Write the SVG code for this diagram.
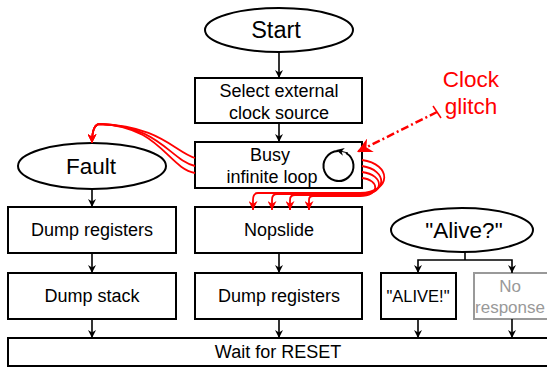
<svg xmlns="http://www.w3.org/2000/svg" width="547" height="367" viewBox="0 0 547 367">
<defs>
<marker id="ab" viewBox="0 0 10 10" refX="10" refY="5" markerWidth="8" markerHeight="8" orient="auto" markerUnits="userSpaceOnUse">
<path d="M0,0 L10,5 L0,10 L3,5 z" fill="#000"/>
</marker>
<marker id="ar" viewBox="0 0 10 10" refX="10" refY="5" markerWidth="9" markerHeight="9" orient="auto" markerUnits="userSpaceOnUse">
<path d="M0,0 L10,5 L0,10 L3,5 z" fill="#f00"/>
</marker>
<marker id="arb" viewBox="0 0 10 10" refX="10" refY="5" markerWidth="15" markerHeight="15" orient="auto" markerUnits="userSpaceOnUse">
<path d="M0,0 L10,5 L0,10 L3,5 z" fill="#f00"/>
</marker>
<marker id="ac" viewBox="0 0 10 10" refX="5" refY="5" markerWidth="8" markerHeight="8" orient="auto" markerUnits="userSpaceOnUse">
<path d="M0,0 L10,5 L0,10 L3,5 z" fill="#000"/>
</marker>
</defs>
<style>
.n{fill:#fff;stroke:#000;stroke-width:2}
.g{fill:#fff;stroke:#999;stroke-width:2}
.t{font-family:"Liberation Sans",Arial,sans-serif;font-size:18px;text-anchor:middle;fill:#000}
.tl{font-family:"Liberation Sans",Arial,sans-serif;font-size:22.5px;text-anchor:middle;fill:#000}
.e{fill:none;stroke:#000;stroke-width:1.6;marker-end:url(#ab)}
.r{fill:none;stroke:#f00;stroke-width:1.8;marker-end:url(#ar)}
</style>
<g id="start"><ellipse class="n" cx="279" cy="30" rx="74" ry="22"/><text class="tl" x="276" y="38" style="font-size:23.5px">Start</text></g>
<g id="select"><rect class="n" x="195" y="78" width="167" height="45"/><text class="t" x="279" y="97">Select external</text><text class="t" x="279" y="119">clock source</text></g>
<g id="busy"><rect class="n" x="195" y="142" width="167" height="46"/><text class="t" x="270" y="161">Busy</text><text class="t" x="272" y="183">infinite loop</text>
<path d="M338,151 A15,15 0 1 0 346,153" fill="none" stroke="#000" stroke-width="2"/>
<path d="M348,153 L340,151" fill="none" stroke="#000" stroke-width="1" marker-end="url(#ac)"/></g>
<g id="fault"><ellipse class="n" cx="92" cy="166" rx="74" ry="23"/><text class="tl" x="91" y="174">Fault</text></g>
<g id="dumpregs1"><rect class="n" x="8" y="207" width="168" height="46"/><text class="t" x="92" y="236">Dump registers</text></g>
<g id="dumpstack"><rect class="n" x="8" y="273" width="168" height="46"/><text class="t" x="92" y="302">Dump stack</text></g>
<g id="nopslide"><rect class="n" x="195" y="207" width="167" height="46"/><text class="t" x="279" y="236">Nopslide</text></g>
<g id="dumpregs2"><rect class="n" x="195" y="273" width="167" height="46"/><text class="t" x="279" y="302">Dump registers</text></g>
<g id="alive"><ellipse class="n" cx="462" cy="230" rx="71" ry="22"/><text class="tl" x="464" y="238">"Alive?"</text></g>
<g id="aliveresp"><rect class="n" x="381" y="273" width="75" height="46"/><text class="t" x="418" y="302" style="font-size:16.5px">"ALIVE!"</text></g>
<g id="noresp"><rect class="g" x="474" y="273" width="80" height="46"/><text class="t" x="510" y="292" style="fill:#999;font-size:17px">No</text><text class="t" x="510" y="313" style="fill:#999;font-size:17px">response</text></g>
<g id="reset"><rect class="n" x="8" y="338" width="546" height="28"/><text class="t" x="278" y="358">Wait for RESET</text></g>
<g id="glitch"><text class="tl" x="471" y="87" style="fill:#f00">Clock</text><text class="tl" x="471" y="114" style="fill:#f00">glitch</text></g>
<g id="connectors">
<path class="e" d="M279,52 V78"/>
<path class="e" d="M279,123 V142"/>
<path class="e" d="M92,189 V207"/>
<path class="e" d="M92,253 V273"/>
<path class="e" d="M92,319 V338"/>
<path class="e" d="M279,253 V273"/>
<path class="e" d="M279,319 V338"/>
<path class="e" d="M418,319 V338"/>
<path class="e" d="M512,319 V338"/>
<path d="M465,252 V260" fill="none" stroke="#000" stroke-width="1.6"/>
<path class="e" d="M465,260 H418 V273"/>
<path class="e" d="M465,260 H512 V273"/>
<path class="r" d="M195,158 C175,152 160,126 100,124 Q92,124 92,143"/>
<path class="r" d="M195,166 C170,160 160,126 100,124 Q92,124 92,143"/>
<path class="r" d="M195,173 C168,168 160,126 100,124 Q92,124 92,143"/>
<path class="r" d="M362,160 C392,164 392,192 360,193 L258,193 Q253,193 253,200 L253,210"/>
<path class="r" d="M362,166 C388,170 388,194 360,194 L277,194 Q272,194 272,200 L272,210"/>
<path class="r" d="M362,172 C385,175 385,195 360,195 L295,195 Q290,195 290,200 L290,210"/>
<path class="r" d="M362,178 C380,180 380,196 360,196 L313,196 Q309,196 309,200 L309,210"/>
<path d="M437,112 L357,152" fill="none" stroke="#f00" stroke-width="2.5" stroke-dasharray="8,3,2,3" marker-end="url(#arb)"/>
<path d="M433,106 L441,118" fill="none" stroke="#f00" stroke-width="1.5"/>
</g>
</svg>
